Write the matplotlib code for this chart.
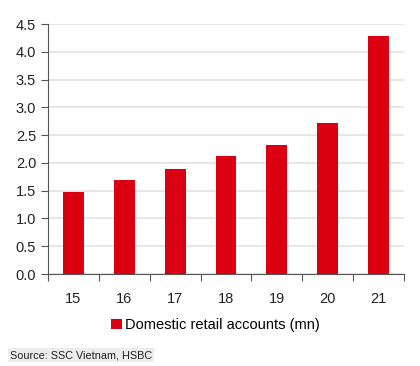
import matplotlib.pyplot as plt
import numpy as np

plt.rcParams['font.family'] = ['Liberation Sans', 'DejaVu Sans']

years = ['15', '16', '17', '18', '19', '20', '21']
accounts = [1.47, 1.69, 1.89, 2.12, 2.33, 2.72, 4.28]
series_name = 'Domestic retail accounts (mn)'
source = 'Source: SSC Vietnam, HSBC'

red = '#db0011'

fig = plt.figure(figsize=(4.2, 3.66), dpi=100)
ax = fig.add_axes([48 / 420, 1 - 274 / 366, 356 / 420, 250 / 366])

x = np.arange(len(years))
ax.bar(x, accounts, width=0.41, color=red, label=series_name, zorder=3)

ax.set_ylim(0, 4.5)
ax.set_yticks(np.arange(0, 4.51, 0.5))
ax.set_yticklabels(['%.1f' % v for v in np.arange(0, 4.51, 0.5)])
ax.set_xlim(-0.5, len(years) - 0.5)
ax.set_xticks(np.arange(-0.5, len(years), 1.0))
ax.set_xticklabels([])
ax.set_xticks(x, minor=True)
ax.set_xticklabels(years, minor=True)
ax.tick_params(axis='x', which='minor', length=0, pad=13, labelsize=10.5, colors='#222222')
ax.tick_params(axis='x', which='major', length=5, direction='out', color='#555555')
ax.tick_params(axis='y', length=5, direction='out', labelsize=10.5, colors='#222222', color='#555555')

ax.grid(axis='y', color='#e3e3e3', linewidth=1.2, zorder=0)
for s in ['top', 'right']:
    ax.spines[s].set_visible(False)
for s in ['left', 'bottom']:
    ax.spines[s].set_color('#555555')

ax.legend(loc='upper center', bbox_to_anchor=(0.47, -0.125), frameon=False,
          fontsize=10.5, handlelength=0.7, handleheight=0.7, handletextpad=0.2)

fig.text(10 / 420, 1 - 355 / 366, source, fontsize=7.8, va='center', color='#222222',
         bbox=dict(facecolor='#ececec', edgecolor='none', pad=1.5))

fig.savefig('out.png', dpi=100)
